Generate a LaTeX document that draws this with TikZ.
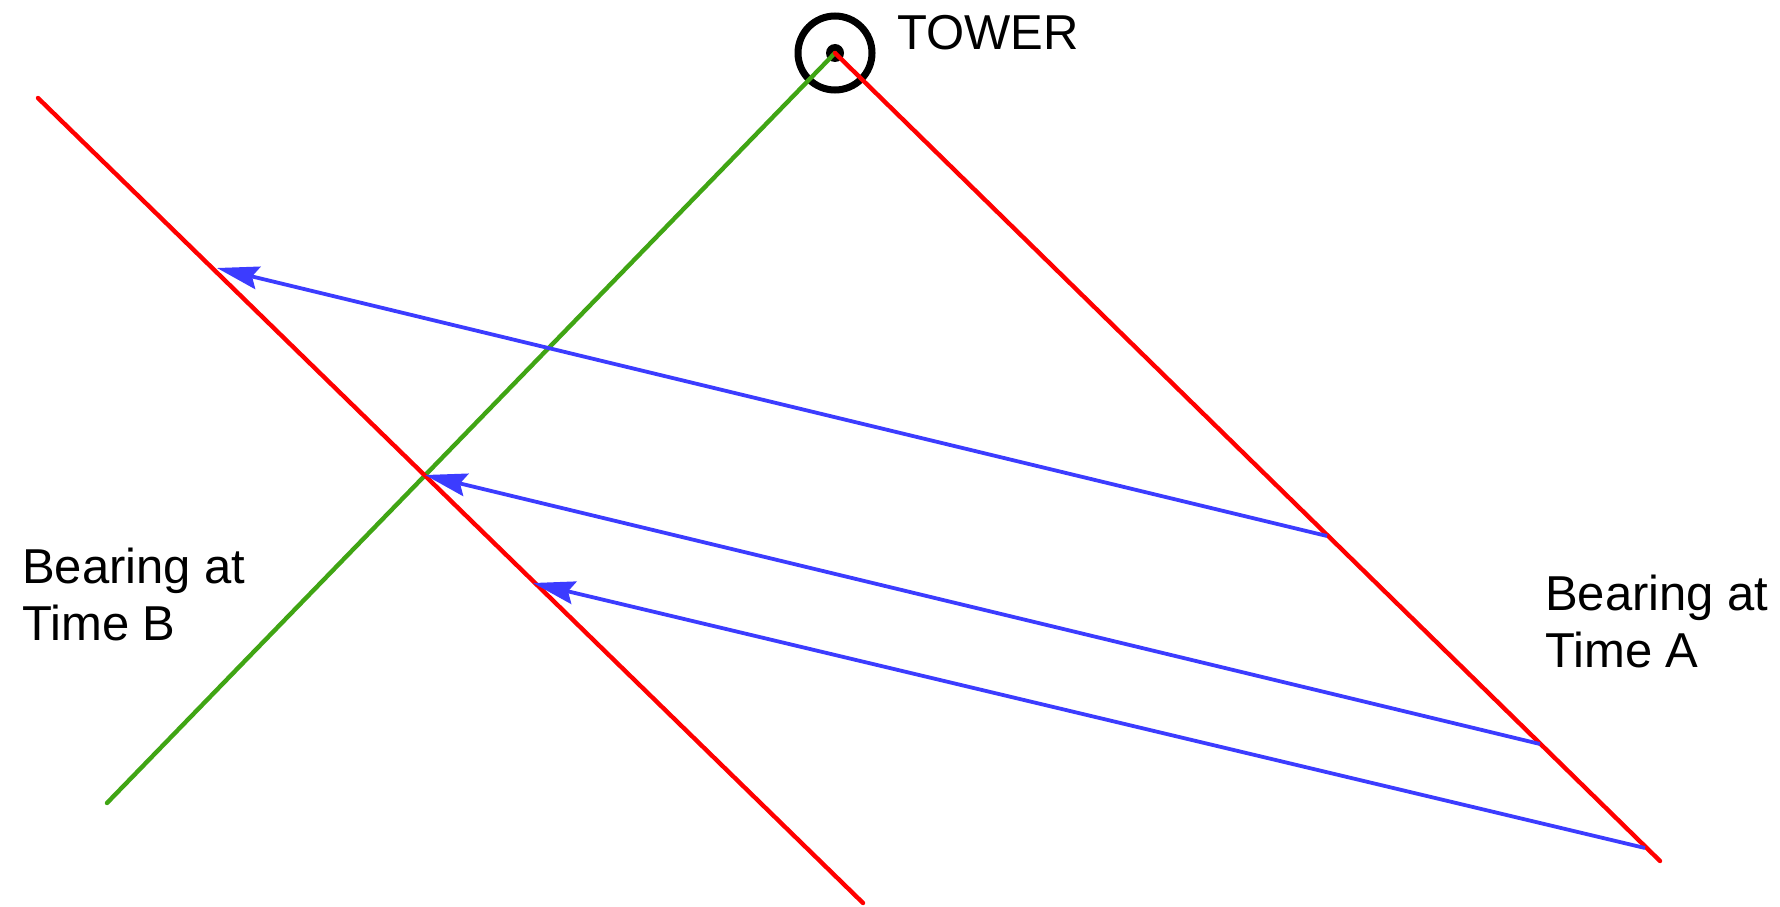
\documentclass[tikz,border=0pt]{standalone}
\usepackage{fontspec}
\setmainfont{Liberation Sans}
\usetikzlibrary{arrows.meta}
\definecolor{bearred}{RGB}{255,0,0}
\definecolor{beargreen}{RGB}{64,165,20}
\definecolor{trackblue}{RGB}{60,60,255}
\tikzset{
  bearing/.style={line width=4.4pt, line cap=round},
  track/.style={trackblue, line width=3.8pt, -{Stealth[length=42pt,width=23pt,inset=6pt]}},
  label/.style={font=\fontsize{49}{57}\selectfont, inner sep=0pt, align=left},
}
\begin{document}
\begin{tikzpicture}[x=1pt,y=-1pt]
  \useasboundingbox (0,0) rectangle (1780,907);
  \fill[white] (0,0) rectangle (1780,907);

  % tower symbol
  \node[circle, draw, line width=7pt, minimum size=74pt, inner sep=0pt] (tower) at (835,53) {};
  \fill (tower.center) circle (9pt);
  \node[label, anchor=base west] (towerlabel) at (897,50) {TOWER};

  % end points of the bearing lines
  \coordinate (aEnd) at (1660,861);
  \coordinate (bEnd) at (107,803);
  \coordinate (pStart) at (38,98);
  \coordinate (pEnd) at (863,903);

  % arrow end points on the two red lines
  \coordinate (a1) at (1327,536);
  \coordinate (a2) at (1540,744);
  \coordinate (a3) at (1645,848);
  \coordinate (b1) at (217,268);
  \coordinate (b2) at (425,475);
  \coordinate (b3) at (533,583);

  % bearings
  \draw[bearing, beargreen] (tower.center) -- (bEnd);
  \draw[bearing, bearred] (tower.center) -- (aEnd);
  \draw[bearing, bearred] (pStart) -- (pEnd);

  % tracks
  \draw[track] (a1) -- (b1);
  \draw[track] (a2) -- (b2);
  \draw[track] (a3) -- (b3);

  % labels
  \node[label, anchor=north west] (labB) at (22,548) {Bearing at\\Time B};
  \node[label, anchor=north west] (labA) at (1545,575) {Bearing at\\Time A};
\end{tikzpicture}
\end{document}
